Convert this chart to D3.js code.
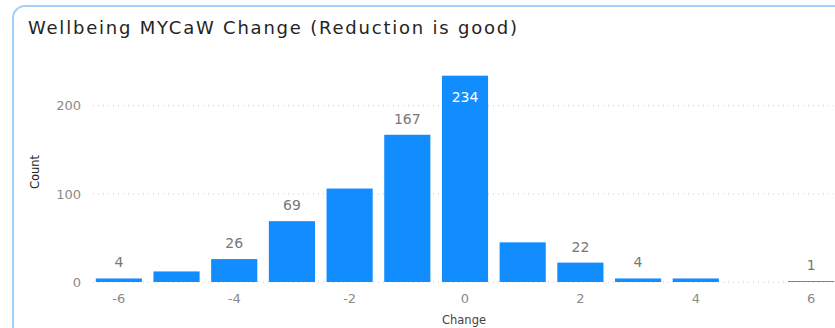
<!DOCTYPE html>
<html>
<head>
<meta charset="utf-8">
<script src="https://cdn.jsdelivr.net/npm/d3@7/dist/d3.min.js"></script>
<style>
  html, body { margin: 0; padding: 0; background: #fff; }
  svg { display: block; }
</style>
</head>
<body>
<svg id="chart" width="835" height="328"></svg>
<script>
// Score change buckets and how many people fell in each
const changes = [-6, -5, -4, -3, -2, -1, 0, 1, 2, 3, 4, 5, 6];
const counts  = [4, 12, 26, 69, 106, 167, 234, 45, 22, 4, 4, 0, 1];
// Buckets whose value label is printed
const labelled = [-6, -4, -3, -1, 0, 2, 3, 6];
const yTicks = [0, 100, 200];
const xTicks = [-6, -4, -2, 0, 2, 4, 6];
const title = "Wellbeing MYCaW Change (Reduction is good)";

(function () {
  const W = 835, H = 328;
  const svg = d3.select("#chart");
  const FONT = "'DejaVu Sans', sans-serif";

  // Card frame
  svg.append("rect")
    .attr("x", 13).attr("y", 6)
    .attr("width", 840).attr("height", 340)
    .attr("rx", 12).attr("ry", 12)
    .attr("fill", "#fff")
    .attr("stroke", "#a3cffb")
    .attr("stroke-width", 2);

  // Title
  svg.append("text")
    .attr("x", 28).attr("y", 34)
    .attr("font-family", FONT)
    .attr("font-size", 18)
    .attr("fill", "#252423")
    .attr("textLength", 489)
    .attr("lengthAdjust", "spacing")
    .text(title);

  const x = d3.scaleBand()
    .domain(changes)
    .range([90, 840])
    .paddingInner(0.2)
    .paddingOuter(0.1);

  const y = d3.scaleLinear()
    .domain([0, 234])
    .range([282, 75.7]);

  // Gridlines
  svg.append("g")
    .selectAll("line")
    .data(yTicks)
    .join("line")
    .attr("x1", 93).attr("x2", W)
    .attr("y1", d => y(d)).attr("y2", d => y(d))
    .attr("stroke", "#c8c8c8")
    .attr("stroke-width", 1)
    .attr("stroke-dasharray", "1,4");

  // Y axis labels
  const yAxis = d3.axisLeft(y).tickValues(yTicks).tickSize(0).tickPadding(0);
  svg.append("g")
    .attr("transform", "translate(81,0)")
    .call(yAxis)
    .call(g => g.select(".domain").remove())
    .call(g => g.selectAll("text")
      .attr("font-family", FONT)
      .attr("font-size", 13)
      .attr("fill", "#8a8a8a"));

  // X axis labels
  const xAxis = d3.axisBottom(x).tickValues(xTicks).tickSize(0).tickPadding(0)
    .tickFormat(d => d < 0 ? "-" + Math.abs(d) : String(d));
  svg.append("g")
    .attr("transform", "translate(0,294)")
    .call(xAxis)
    .call(g => g.select(".domain").remove())
    .call(g => g.selectAll("text")
      .attr("font-family", FONT)
      .attr("font-size", 13)
      .attr("fill", "#8a8a8a"));

  // Axis titles
  svg.append("text")
    .attr("transform", "translate(39,172) rotate(-90)")
    .attr("text-anchor", "middle")
    .attr("font-family", FONT)
    .attr("font-size", 11.5)
    .attr("fill", "#252423")
    .text("Count");

  svg.append("text")
    .attr("x", 464).attr("y", 324)
    .attr("text-anchor", "middle")
    .attr("font-family", FONT)
    .attr("font-size", 11.5)
    .attr("fill", "#444")
    .text("Change");

  // Bars
  const data = changes.map((c, i) => ({ change: c, count: counts[i] }));
  svg.append("g")
    .selectAll("rect")
    .data(data.filter(d => d.count > 0))
    .join("rect")
    .attr("x", d => x(d.change))
    .attr("width", x.bandwidth())
    .attr("y", d => y(d.count))
    .attr("height", d => y(0) - y(d.count))
    .attr("fill", "#118dff");

  // Value labels: above the bar, or inside when it reaches the top
  const maxCount = d3.max(counts);
  svg.append("g")
    .selectAll("text")
    .data(data.filter(d => labelled.includes(d.change)))
    .join("text")
    .attr("x", d => x(d.change) + x.bandwidth() / 2)
    .attr("y", d => d.count === maxCount ? y(d.count) + 26 : y(d.count) - 11)
    .attr("text-anchor", "middle")
    .attr("font-family", FONT)
    .attr("font-size", 14)
    .attr("fill", d => d.count === maxCount ? "#ffffff" : "#777")
    .text(d => d.count);
})();
</script>
</body>
</html>
